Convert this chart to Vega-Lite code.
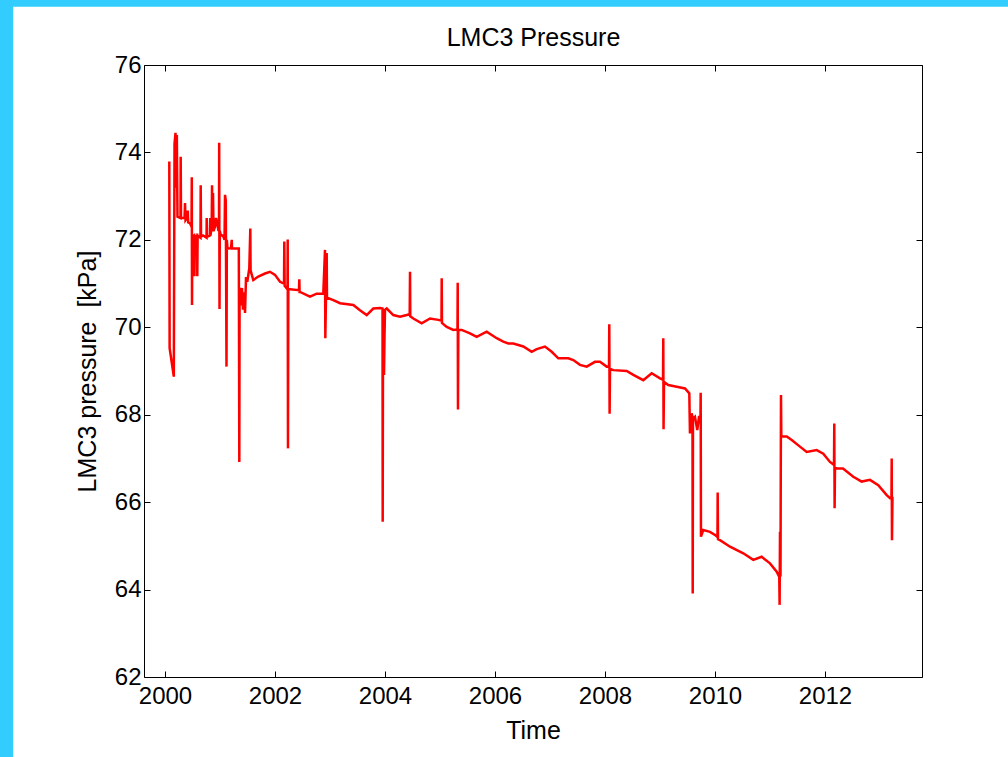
{
  "$schema": "https://vega.github.io/schema/vega-lite/v6.json",
  "width": 778,
  "height": 612,
  "autosize": {"type": "none"},
  "padding": {"left": 144, "top": 65, "right": 86, "bottom": 80},
  "background": "#33CCFF",
  "config": {
    "font": "Liberation Sans",
    "view": {"stroke": null},
    "axis": {"zindex": 1, "grid": false, "domainColor": "black", "domainWidth": 1, "tickColor": "black", "tickSize": -6, "labelFontSize": 24, "labelColor": "black", "titleFontSize": 25, "titleFontWeight": "normal", "titleColor": "black", "labelFont": "Liberation Sans", "titleFont": "Liberation Sans"}
  },
  "resolve": {"axis": {"x": "independent", "y": "independent"}},
  "data": {"values": [
    {"year": 2000.078, "p": 73.79}, {"year": 2000.084, "p": 69.52}, {"year": 2000.160, "p": 68.87}, {"year": 2000.173, "p": 74.2}, {"year": 2000.191, "p": 74.45}, {"year": 2000.204, "p": 73.19}, {"year": 2000.215, "p": 74.4}, {"year": 2000.227, "p": 72.53},
    {"year": 2000.282, "p": 72.5}, {"year": 2000.285, "p": 73.9}, {"year": 2000.291, "p": 72.5}, {"year": 2000.355, "p": 72.5}, {"year": 2000.364, "p": 72.84}, {"year": 2000.373, "p": 72.45}, {"year": 2000.400, "p": 72.5}, {"year": 2000.413, "p": 72.67}, {"year": 2000.422, "p": 72.4},
    {"year": 2000.455, "p": 72.38}, {"year": 2000.482, "p": 72.3}, {"year": 2000.487, "p": 73.43}, {"year": 2000.491, "p": 70.51}, {"year": 2000.496, "p": 72.07}, {"year": 2000.527, "p": 72.1}, {"year": 2000.535, "p": 71.17}, {"year": 2000.542, "p": 72.07},
    {"year": 2000.582, "p": 72.1}, {"year": 2000.587, "p": 71.17}, {"year": 2000.593, "p": 72.1}, {"year": 2000.645, "p": 72.05}, {"year": 2000.649, "p": 73.25}, {"year": 2000.655, "p": 72.07}, {"year": 2000.691, "p": 72.1},
    {"year": 2000.755, "p": 72.05}, {"year": 2000.758, "p": 72.5}, {"year": 2000.764, "p": 72.07}, {"year": 2000.818, "p": 72.1}, {"year": 2000.822, "p": 72.5}, {"year": 2000.827, "p": 72.1}, {"year": 2000.849, "p": 72.3}, {"year": 2000.855, "p": 73.25},
    {"year": 2000.864, "p": 72.4}, {"year": 2000.873, "p": 73.07}, {"year": 2000.882, "p": 72.2}, {"year": 2000.909, "p": 72.3}, {"year": 2000.927, "p": 72.5}, {"year": 2000.945, "p": 72.4}, {"year": 2000.973, "p": 72.2}, {"year": 2000.982, "p": 72.3},
    {"year": 2000.985, "p": 74.22}, {"year": 2000.991, "p": 70.42}, {"year": 2000.996, "p": 72.2}, {"year": 2001.018, "p": 72.1}, {"year": 2001.055, "p": 72.1}, {"year": 2001.082, "p": 72.0}, {"year": 2001.091, "p": 73.03}, {"year": 2001.105, "p": 72.9},
    {"year": 2001.118, "p": 69.1}, {"year": 2001.124, "p": 72.0}, {"year": 2001.136, "p": 71.8}, {"year": 2001.200, "p": 71.81}, {"year": 2001.213, "p": 72.0}, {"year": 2001.218, "p": 71.8}, {"year": 2001.342, "p": 71.8}, {"year": 2001.351, "p": 66.92},
    {"year": 2001.356, "p": 70.9}, {"year": 2001.382, "p": 70.5}, {"year": 2001.400, "p": 70.9}, {"year": 2001.418, "p": 70.4}, {"year": 2001.436, "p": 70.8}, {"year": 2001.455, "p": 70.33}, {"year": 2001.473, "p": 71.15}, {"year": 2001.496, "p": 71.04},
    {"year": 2001.533, "p": 71.36}, {"year": 2001.551, "p": 72.26}, {"year": 2001.556, "p": 71.3}, {"year": 2001.605, "p": 71.08}, {"year": 2001.696, "p": 71.16}, {"year": 2001.818, "p": 71.23}, {"year": 2001.909, "p": 71.27}, {"year": 2002.000, "p": 71.2},
    {"year": 2002.091, "p": 71.04}, {"year": 2002.164, "p": 71.0}, {"year": 2002.169, "p": 71.96}, {"year": 2002.175, "p": 70.95}, {"year": 2002.213, "p": 70.89}, {"year": 2002.227, "p": 70.9}, {"year": 2002.231, "p": 72.01}, {"year": 2002.236, "p": 67.23},
    {"year": 2002.242, "p": 70.87}, {"year": 2002.273, "p": 70.87}, {"year": 2002.436, "p": 70.85}, {"year": 2002.442, "p": 71.1}, {"year": 2002.447, "p": 70.81}, {"year": 2002.455, "p": 70.81}, {"year": 2002.636, "p": 70.7}, {"year": 2002.758, "p": 70.77},
    {"year": 2002.878, "p": 70.77}, {"year": 2002.909, "p": 71.77}, {"year": 2002.915, "p": 69.75}, {"year": 2002.927, "p": 70.7}, {"year": 2002.940, "p": 71.7}, {"year": 2002.945, "p": 70.68}, {"year": 2003.060, "p": 70.62}, {"year": 2003.182, "p": 70.55},
    {"year": 2003.424, "p": 70.51}, {"year": 2003.545, "p": 70.39}, {"year": 2003.667, "p": 70.28}, {"year": 2003.787, "p": 70.43}, {"year": 2003.909, "p": 70.44}, {"year": 2003.955, "p": 70.43}, {"year": 2003.958, "p": 65.55}, {"year": 2003.964, "p": 69.9},
    {"year": 2003.982, "p": 68.91}, {"year": 2003.991, "p": 69.78}, {"year": 2004.000, "p": 70.4}, {"year": 2004.031, "p": 70.43}, {"year": 2004.151, "p": 70.28}, {"year": 2004.273, "p": 70.24}, {"year": 2004.395, "p": 70.28}, {"year": 2004.449, "p": 70.3},
    {"year": 2004.455, "p": 71.27}, {"year": 2004.460, "p": 70.25}, {"year": 2004.515, "p": 70.2}, {"year": 2004.667, "p": 70.09}, {"year": 2004.818, "p": 70.2}, {"year": 2004.969, "p": 70.17}, {"year": 2005.027, "p": 70.15}, {"year": 2005.031, "p": 71.12},
    {"year": 2005.036, "p": 70.1}, {"year": 2005.122, "p": 70.01}, {"year": 2005.242, "p": 69.94}, {"year": 2005.318, "p": 69.95}, {"year": 2005.322, "p": 71.02}, {"year": 2005.327, "p": 68.12}, {"year": 2005.333, "p": 69.94}, {"year": 2005.395, "p": 69.94},
    {"year": 2005.545, "p": 69.86}, {"year": 2005.667, "p": 69.78}, {"year": 2005.849, "p": 69.9}, {"year": 2006.031, "p": 69.75}, {"year": 2006.151, "p": 69.67}, {"year": 2006.242, "p": 69.63}, {"year": 2006.333, "p": 69.63}, {"year": 2006.515, "p": 69.56},
    {"year": 2006.667, "p": 69.44}, {"year": 2006.758, "p": 69.5}, {"year": 2006.909, "p": 69.56}, {"year": 2007.031, "p": 69.44}, {"year": 2007.151, "p": 69.29}, {"year": 2007.333, "p": 69.29}, {"year": 2007.424, "p": 69.25}, {"year": 2007.545, "p": 69.14},
    {"year": 2007.667, "p": 69.1}, {"year": 2007.818, "p": 69.21}, {"year": 2007.909, "p": 69.21}, {"year": 2008.031, "p": 69.1}, {"year": 2008.073, "p": 69.1}, {"year": 2008.078, "p": 70.07}, {"year": 2008.084, "p": 68.02}, {"year": 2008.091, "p": 69.05},
    {"year": 2008.151, "p": 69.02}, {"year": 2008.395, "p": 69.0}, {"year": 2008.515, "p": 68.91}, {"year": 2008.696, "p": 68.79}, {"year": 2008.849, "p": 68.95}, {"year": 2009.000, "p": 68.83}, {"year": 2009.055, "p": 68.8}, {"year": 2009.060, "p": 69.75},
    {"year": 2009.065, "p": 67.67}, {"year": 2009.073, "p": 68.75}, {"year": 2009.151, "p": 68.68}, {"year": 2009.304, "p": 68.64}, {"year": 2009.455, "p": 68.6}, {"year": 2009.533, "p": 68.49}, {"year": 2009.545, "p": 67.57}, {"year": 2009.576, "p": 68.03},
    {"year": 2009.591, "p": 67.95}, {"year": 2009.595, "p": 63.91}, {"year": 2009.600, "p": 67.9}, {"year": 2009.636, "p": 67.95}, {"year": 2009.678, "p": 67.65}, {"year": 2009.709, "p": 67.95}, {"year": 2009.736, "p": 67.95}, {"year": 2009.740, "p": 68.5},
    {"year": 2009.745, "p": 65.21}, {"year": 2009.787, "p": 65.36}, {"year": 2009.909, "p": 65.32}, {"year": 2010.000, "p": 65.25}, {"year": 2010.045, "p": 65.2}, {"year": 2010.049, "p": 66.22}, {"year": 2010.055, "p": 65.15}, {"year": 2010.091, "p": 65.13},
    {"year": 2010.273, "p": 64.98}, {"year": 2010.515, "p": 64.83}, {"year": 2010.696, "p": 64.68}, {"year": 2010.849, "p": 64.75}, {"year": 2011.000, "p": 64.6}, {"year": 2011.122, "p": 64.41}, {"year": 2011.169, "p": 64.29}, {"year": 2011.175, "p": 63.65},
    {"year": 2011.182, "p": 65.32}, {"year": 2011.191, "p": 64.3}, {"year": 2011.200, "p": 68.45}, {"year": 2011.206, "p": 67.5}, {"year": 2011.304, "p": 67.5}, {"year": 2011.395, "p": 67.42}, {"year": 2011.545, "p": 67.27}, {"year": 2011.667, "p": 67.15},
    {"year": 2011.849, "p": 67.19}, {"year": 2011.969, "p": 67.11}, {"year": 2012.091, "p": 66.92}, {"year": 2012.164, "p": 66.85}, {"year": 2012.169, "p": 67.8}, {"year": 2012.175, "p": 65.86}, {"year": 2012.182, "p": 66.8}, {"year": 2012.213, "p": 66.77},
    {"year": 2012.327, "p": 66.77}, {"year": 2012.515, "p": 66.58}, {"year": 2012.667, "p": 66.47}, {"year": 2012.818, "p": 66.51}, {"year": 2012.969, "p": 66.39}, {"year": 2013.122, "p": 66.16}, {"year": 2013.182, "p": 66.09}, {"year": 2013.209, "p": 66.1},
    {"year": 2013.213, "p": 67.0}, {"year": 2013.218, "p": 65.13}, {"year": 2013.227, "p": 66.1}, {"year": 2013.242, "p": 66.09}
  ]},
  "layer": [
    {
      "data": {"values": [{"x0": 1997.24, "x1": 2017, "y0": 77.33, "y1": 55}]},
      "mark": {"type": "rect", "fill": "white", "clip": false},
      "encoding": {
        "x": {"field": "x0", "type": "quantitative", "scale": {"domain": [1999.618, 2013.764], "nice": false, "zero": false}, "axis": null},
        "x2": {"field": "x1"},
        "y": {"field": "y0", "type": "quantitative", "scale": {"domain": [62, 76], "nice": false, "zero": false}, "axis": null},
        "y2": {"field": "y1"}
      }
    },
    {
      "mark": {"type": "line", "color": "#FF0000", "strokeWidth": 2.5, "clip": true},
      "encoding": {
        "x": {"field": "year", "type": "quantitative", "scale": {"domain": [1999.618, 2013.764], "nice": false, "zero": false},
              "axis": {"orient": "bottom", "zindex": 1, "values": [2000, 2002, 2004, 2006, 2008, 2010, 2012], "format": "d", "title": "Time", "labelPadding": 13, "titlePadding": 10, "labelFlush": false}},
        "y": {"field": "p", "type": "quantitative", "scale": {"domain": [62, 76], "nice": false, "zero": false},
              "axis": {"orient": "left", "zindex": 1, "values": [62, 64, 66, 68, 70, 72, 74, 76], "title": "LMC3 pressure\u00a0 [kPa]", "labelPadding": 9, "titlePadding": 14, "labelFlush": false}}
      }
    },
    {
      "mark": {"type": "line", "strokeOpacity": 0},
      "encoding": {
        "x": {"field": "year", "type": "quantitative", "scale": {"domain": [1999.618, 2013.764], "nice": false, "zero": false},
              "axis": {"orient": "top", "zindex": 1, "values": [2000, 2002, 2004, 2006, 2008, 2010, 2012], "labels": false, "title": "LMC3 Pressure", "titlePadding": 14, "titleFontSize": 25}},
        "y": {"field": "p", "type": "quantitative", "scale": {"domain": [62, 76], "nice": false, "zero": false},
              "axis": {"orient": "right", "zindex": 1, "values": [62, 64, 66, 68, 70, 72, 74, 76], "labels": false, "title": null}}
      }
    }
  ]
}
